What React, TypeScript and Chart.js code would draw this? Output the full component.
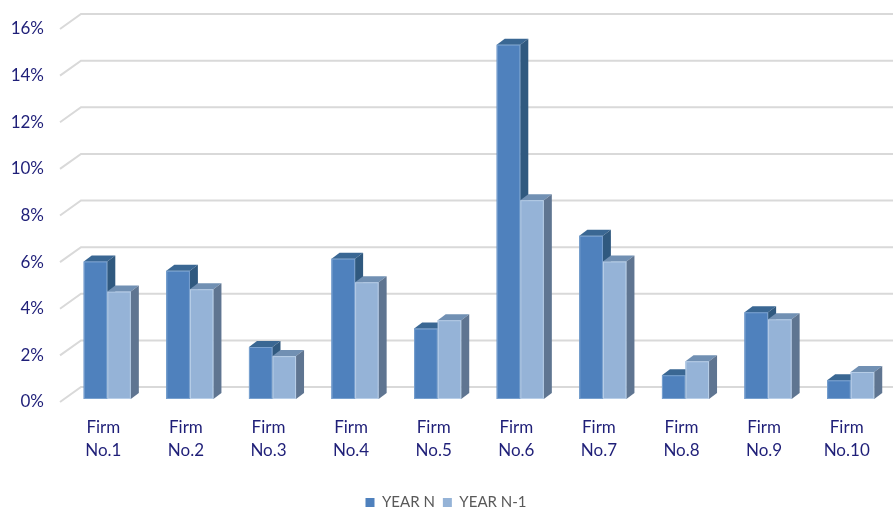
import React, { useEffect, useRef } from "react";
import { Chart, registerables } from "chart.js";

Chart.register(...registerables);

const CATEGORIES: string[][] = [
  ["Firm", "No.1"], ["Firm", "No.2"], ["Firm", "No.3"], ["Firm", "No.4"], ["Firm", "No.5"],
  ["Firm", "No.6"], ["Firm", "No.7"], ["Firm", "No.8"], ["Firm", "No.9"], ["Firm", "No.10"],
];
const YEAR_N = [5.9, 5.5, 2.23, 6.02, 3.02, 15.2, 7.0, 1.02, 3.72, 0.8];
const YEAR_N1 = [4.61, 4.71, 1.84, 5.01, 3.38, 8.53, 5.9, 1.62, 3.42, 1.16];
const SERIES_NAMES = ["YEAR N", "YEAR N-1"];
const Y_MIN = 0;
const Y_MAX = 16;
const Y_STEP = 2;

const FRONT = ["#4F81BD", "#95B3D7"];
const TOP = ["#3A6793", "#7190B3"];
const SIDE = ["#30597F", "#5F7591"];
const AXIS_TEXT = "#1F1F78";
const FONT = "Lato, 'Open Sans', sans-serif";

const DX = 8;
const DY = 6;

const threeD = {
  id: "threeD",
  beforeDatasetsDraw(chart: any) {
    const ctx = chart.ctx;
    const ys = chart.scales.y;
    ctx.save();
    ctx.strokeStyle = "#D9D9D9";
    ctx.lineWidth = 2;
    for (const t of ys.ticks) {
      const py = ys.getPixelForValue(t.value);
      ctx.beginPath();
      ctx.moveTo(60, py + 3);
      ctx.lineTo(81, py - 12);
      ctx.lineTo(chart.width, py - 12);
      ctx.stroke();
    }
    ctx.restore();
  },
  afterDatasetsDraw(chart: any) {
    const ctx = chart.ctx;
    const n = chart.data.labels.length;
    ctx.save();
    for (let i = 0; i < n; i++) {
      for (let d = 0; d < chart.data.datasets.length; d++) {
        const el = chart.getDatasetMeta(d).data[i];
        if (!el) continue;
        const { x, y, width, base } = el.getProps(["x", "y", "width", "base"], true);
        const l = x - width / 2;
        const r = x + width / 2;
        ctx.fillStyle = FRONT[d];
        ctx.fillRect(l, y, width, base - y);
        ctx.fillStyle = TOP[d];
        ctx.beginPath();
        ctx.moveTo(l, y);
        ctx.lineTo(l + DX, y - DY);
        ctx.lineTo(r + DX, y - DY);
        ctx.lineTo(r, y);
        ctx.closePath();
        ctx.fill();
        ctx.fillStyle = SIDE[d];
        ctx.beginPath();
        ctx.moveTo(r, y);
        ctx.lineTo(r + DX, y - DY);
        ctx.lineTo(r + DX, base - DY);
        ctx.lineTo(r, base);
        ctx.closePath();
        ctx.fill();
        ctx.strokeStyle = d === 0 ? "rgba(140,175,215,0.7)" : "rgba(200,218,240,0.7)";
        ctx.lineWidth = 1;
        ctx.strokeRect(l + 0.5, y + 0.5, width - 1, base - y - 1);
      }
    }
    ctx.restore();
  },
};

export default function App() {
  const ref = useRef<HTMLCanvasElement>(null);
  useEffect(() => {
    if (!ref.current) return;
    const chart = new Chart(ref.current, {
      type: "bar",
      data: {
        labels: CATEGORIES,
        datasets: [
          { label: SERIES_NAMES[0], data: YEAR_N, backgroundColor: FRONT[0], borderWidth: 0 },
          { label: SERIES_NAMES[1], data: YEAR_N1, backgroundColor: FRONT[1], borderWidth: 0 },
        ],
      },
      options: {
        responsive: false,
        animation: false,
        layout: { padding: { top: 26, left: 0, right: 1, bottom: -12 } },
        datasets: { bar: { categoryPercentage: 0.57, barPercentage: 1 } },
        plugins: {
          tooltip: { enabled: false },
          legend: {
            position: "bottom",
            labels: {
              boxWidth: 9,
              boxHeight: 9,
              padding: 8,
              color: "#595959",
              font: { family: FONT, size: 15 },
            },
          },
        },
        scales: {
          x: {
            grid: { display: false, drawTicks: false },
            border: { display: false },
            ticks: {
              color: AXIS_TEXT,
              font: { family: FONT, size: 17, lineHeight: 23 / 17 },
              padding: 17.5,
              labelOffset: -4,
              maxRotation: 0,
              autoSkip: false,
            },
            afterFit: (s: any) => { s.height = 88; s.paddingLeft = 0; s.paddingRight = 0; },
          },
          y: {
            min: Y_MIN,
            max: Y_MAX,
            grid: { display: false, drawTicks: false },
            border: { display: false },
            ticks: {
              stepSize: Y_STEP,
              color: AXIS_TEXT,
              font: { family: FONT, size: 17 },
              padding: 22,
              labelOffset: 3,
              callback: (v: any) => v + "%",
            },
            afterFit: (s: any) => { s.width = 66; s.paddingTop = 0; s.paddingBottom = 0; },
          },
        },
      },
      plugins: [threeD],
    });
    return () => chart.destroy();
  }, []);
  return (
    <div style={{ position: "fixed", left: 0, top: 0, width: 893, height: 508, background: "#fff" }}>
      <canvas ref={ref} width={893} height={508} style={{ display: "block" }} />
    </div>
  );
}
